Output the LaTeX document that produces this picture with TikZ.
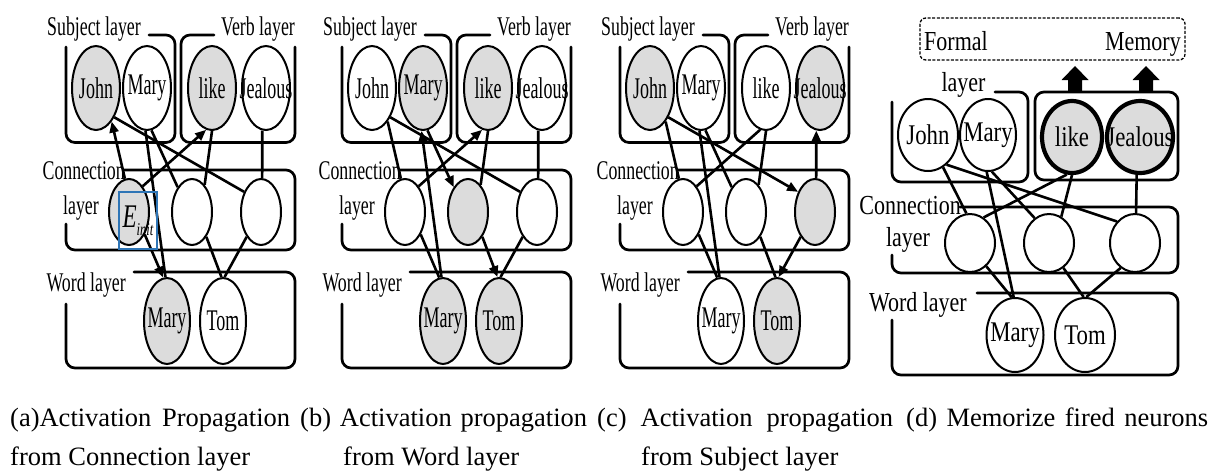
\documentclass[tikz,border=0pt]{standalone}
\usepackage{fontspec}
\setmainfont{Liberation Serif}
\newfontfamily\fA[FakeStretch=0.66]{Liberation Serif}
\newfontfamily\fN[FakeStretch=0.6]{Liberation Serif}
\newfontfamily\fE[FakeStretch=0.7]{Liberation Serif}
\newfontfamily\fD[FakeStretch=0.8]{Liberation Serif}
\usetikzlibrary{shapes.geometric,arrows.meta}
\definecolor{act}{HTML}{DCDCDC}
\definecolor{eblue}{HTML}{2E75B6}
\newcommand\ctr[1]{\makebox[0pt]{#1}}

\tikzset{
  frame/.style={line width=2.7, rounded corners=9, line cap=round},
  lab/.style={inner sep=0, font=\fA\fontsize{27}{29}\selectfont},
  labd/.style={inner sep=0, font=\fD\fontsize{27.5}{29}\selectfont},
  neu/.style={ellipse, draw, line width=2, inner sep=0, fill=white,
    font=\fN\fontsize{30}{32}\selectfont},
  subjn/.style={neu, minimum width=48, minimum height=84},
  connn/.style={neu, minimum width=40, minimum height=66},
  wordn/.style={neu, minimum width=46, minimum height=86},
  dneu/.style={neu, font=\fD\fontsize{28.5}{30}\selectfont},
  fired/.style={fill=act},
  memfired/.style={fill=act, line width=4.2},
  link/.style={line width=2.6, >={Triangle[length=11pt,width=9pt]}},
  einit/.style={draw=eblue, line width=1.6, minimum width=38, minimum height=57, inner sep=0},
  memo/.style={draw, dash pattern=on 3pt off 1.6pt, line width=1.3, rounded corners=6,
    minimum width=265, minimum height=42, inner sep=0},
  captxt/.style={inner sep=0, anchor=base west, font=\fontsize{26.5}{30}\selectfont},
  % per-panel activity and arrow direction, empty by default
  sJohn/.style={}, sMary/.style={}, slike/.style={}, sJealous/.style={},
  sc1/.style={}, sc2/.style={}, sc3/.style={}, swMary/.style={}, swTom/.style={},
  lA/.style={}, lB/.style={}, lC/.style={}, lD/.style={}, lE/.style={},
  lF/.style={}, lG/.style={}, lH/.style={}, lI/.style={}, lJ/.style={},
}

% the four layers of one network, drawn relative to the left edge of the frames
\newcommand\layers{%
  \draw[frame] (83,35) -- (109,35) -- (109,142.5) -- (0,142.5) -- (0,47);
  \draw[frame] (148,35) -- (115,35) -- (115,142.5) -- (229,142.5) -- (229,47);
  \draw[frame] (58,170) -- (229,170) -- (229,250) -- (0,250) -- (0,224);
  \draw[frame] (68,272) -- (229,272) -- (229,368) -- (0,368) -- (0,304);
  \node[lab] (subjlab) at (28,29) {Subject layer};
  \node[lab] (verblab) at (192,29) {Verb layer};
  \node[lab,anchor=east] (connlab) at (59,171) {Connection};
  \node[lab] (connlab2) at (15,208) {layer};
  \node[lab,anchor=east] (wordlab) at (60,285) {Word layer};
  \node[subjn,sJohn] (John) at (30,88) {\ctr{John}};
  \node[subjn,sMary] (Mary) at (81,88) {\ctr{Mary}};
  \node[subjn,slike] (like) at (146,88) {\ctr{like}};
  \node[subjn,sJealous] (Jealous) at (200,88) {\ctr{Jealous}};
  \node[connn,sc1] (c1) at (63,212) {};
  \node[connn,sc2] (c2) at (126,212) {};
  \node[connn,sc3] (c3) at (195,212) {};
  \node[wordn,swMary] (wMary) at (101,321) {\ctr{Mary}};
  \node[wordn,swTom] (wTom) at (157,321) {\ctr{Tom}};
}

% synapses between the layers
\newcommand\links{%
  \draw[link,lA] (John.-65) -- (c1.97);
  \draw[link,lB] (John.-58) -- (c3.130);
  \draw[link,lC] (Mary.-92) -- (wMary.92);
  \draw[link,lD] (Mary.-84) -- (c2.120);
  \draw[link,lE] (like.-98) -- (c1.62);
  \draw[link,lF] (like.-90) -- (c2.65);
  \draw[link,lG] (Jealous.-95) -- (c3.88);
  \draw[link,lH] (c1.-55) -- (wMary.95);
  \draw[link,lI] (c2.-60) -- (wTom.92);
  \draw[link,lJ] (c3.-120) -- (wTom.88);
}

% thick upward block arrow starting at a coordinate
\newcommand\blockup[1]{%
  \fill (#1) ++(-7,0) -- ++(0,-12) -- ++(-6.5,0) -- ++(13.5,-14)
    -- ++(13.5,14) -- ++(-6.5,0) -- ++(0,12) -- cycle;
}

\begin{document}
\begin{tikzpicture}[x=1pt,y=-1pt]
\useasboundingbox (0,0) rectangle (1223,475);
\fill[white] (0,0) rectangle (1223,475);

% (a) propagation from the connection layer
\begin{scope}[shift={(66,0)}, name prefix=a-,
    sJohn/.style=fired, slike/.style=fired, sc1/.style=fired, swMary/.style=fired,
    lA/.style={<-}, lE/.style={<-}, lH/.style={->}]
  \layers
  \links
  \node[einit, font=\fE] (einit) at (72,220.5)
    {{\fontsize{33}{33}\selectfont\itshape E}\raisebox{-8pt}{\fontsize{18}{18}\selectfont\itshape init}};
\end{scope}

% (b) propagation from the word layer
\begin{scope}[shift={(342,0)}, name prefix=b-,
    sMary/.style=fired, slike/.style=fired, sc2/.style=fired,
    swMary/.style=fired, swTom/.style=fired,
    lC/.style={<-}, lE/.style={<-}, lD/.style={->}, lI/.style={->}]
  \layers
  \links
\end{scope}

% (c) propagation from the subject layer
\begin{scope}[shift={(620,0)}, name prefix=c-,
    sJohn/.style=fired, sJealous/.style=fired, sc3/.style=fired, swTom/.style=fired,
    lB/.style={->}, lG/.style={<-}, lJ/.style={->}]
  \layers
  \links
\end{scope}

% (d) fired verb neurons written to formal memory
\begin{scope}[name prefix=d-]
  \node[memo] (mem) at (1052.5,39) {};
  \node[labd, anchor=base west] (formal) at (924,50) {Formal};
  \node[labd, anchor=base east] (memory) at (1181,50) {Memory};
  \node[labd] (subjlab) at (963.5,85) {layer};
  \draw[frame] (995,92) -- (1028,92) -- (1028,182) -- (892,182) -- (892,102);
  \draw[frame] (1035,92) rectangle (1178,180);
  \draw[frame] (960,207) -- (1178,207) -- (1178,273) -- (892,273) -- (892,255);
  \draw[frame] (977,293) -- (1178,293) -- (1178,375) -- (892,375) -- (892,320);
  \node[labd, anchor=east] (connlab) at (961,206) {Connection};
  \node[labd] (connlab2) at (908,240) {layer};
  \node[labd, anchor=east] (wordlab) at (967,305) {Word layer};
  \node[dneu, minimum width=60, minimum height=72] (John) at (928,135) {\ctr{John}};
  \node[dneu, minimum width=56, minimum height=72] (Mary) at (988,135) {\ctr{Mary}};
  \node[dneu, memfired, minimum width=60, minimum height=72] (like) at (1072,137) {\ctr{like}};
  \node[dneu, memfired, minimum width=66, minimum height=72] (Jealous) at (1140,137) {\ctr{Jealous}};
  \node[dneu, minimum width=50, minimum height=58] (c1) at (970,243) {};
  \node[dneu, minimum width=50, minimum height=58] (c2) at (1049,243) {};
  \node[dneu, minimum width=50, minimum height=58] (c3) at (1135,243) {};
  \node[dneu, minimum width=57, minimum height=74] (wMary) at (1015,335) {\ctr{Mary}};
  \node[dneu, minimum width=60, minimum height=74] (wTom) at (1085,335) {\ctr{Tom}};
  \links
  \coordinate (up1) at (1075,92);
  \coordinate (up2) at (1146,92);
  \blockup{d-up1}
  \blockup{d-up2}
\end{scope}

% captions
\node[captxt] (capa) at (10,426) {\makebox[280pt][s]{(a)Activation Propagation}};
\node[captxt] (capa2) at (10,465) {from Connection layer};
\node[captxt] (capb) at (300,426) {\makebox[287pt][s]{(b) Activation propagation}};
\node[captxt] (capb2) at (343,465) {from Word layer};
\node[captxt] (capc) at (597,426) {\makebox[296pt][s]{(c) Activation propagation}};
\node[captxt] (capc2) at (641,465) {from Subject layer};
\node[captxt] (capd) at (906,426) {\makebox[302pt][s]{(d) Memorize fired neurons}};
\end{tikzpicture}
\end{document}
